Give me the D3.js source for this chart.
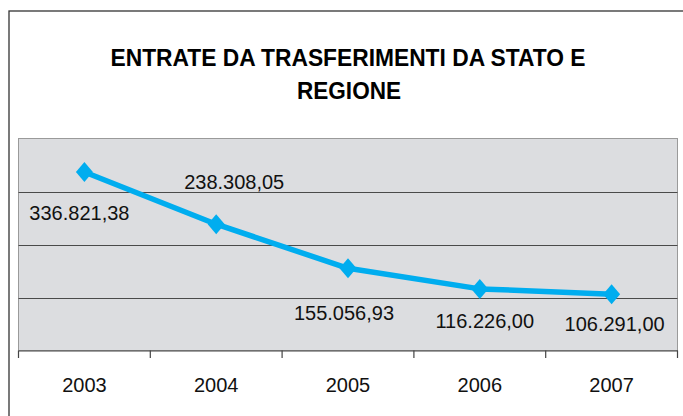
<!DOCTYPE html>
<html><head><meta charset="utf-8">
<script src="https://cdn.jsdelivr.net/npm/d3@7"></script>
<style>html,body{margin:0;padding:0;background:#fff;}svg{display:block;}</style>
</head><body>
<script>
const titleLines = ["ENTRATE DA TRASFERIMENTI DA STATO E", "REGIONE"];
const years = ["2003", "2004", "2005", "2006", "2007"];
const values = [336821.38, 238308.05, 155056.93, 116226.00, 106291.00];
const valueLabels = ["336.821,38", "238.308,05", "155.056,93", "116.226,00", "106.291,00"];
const yTicks = [0, 100000, 200000, 300000, 400000];
// label offsets (layout only)
const labelDx = [-5, 18, -4, 5, 3];
const labelDy = [48, -35, 52, 39, 37];

const W = 683, H = 416;
const svg = d3.select("body").append("svg").attr("width", W).attr("height", H);
svg.append("rect").attr("width", W).attr("height", H).attr("fill", "#fff");

// outer border
svg.append("rect").attr("x", 9).attr("y", 11).attr("width", 690).attr("height", 420)
  .attr("fill", "none").attr("stroke", "#333").attr("stroke-width", 1.3);

const pLeft = 18.5, pRight = 677.5, pTop = 138.5, pBottom = 350.5;
const x = d3.scaleBand().domain(years).range([pLeft, pRight]);
const y = d3.scaleLinear().domain([0, 400000]).range([pBottom, pTop]);

// title
const title = svg.append("text").attr("text-anchor", "middle")
  .attr("font-family", "'Liberation Sans Narrow', 'Liberation Sans', Arial, sans-serif")
  .attr("font-weight", "bold").attr("font-size", 24).attr("fill", "#000");
title.append("tspan").attr("x", 348).attr("y", 65.5).attr("textLength", 475).attr("lengthAdjust", "spacingAndGlyphs").text(titleLines[0]);
title.append("tspan").attr("x", 349).attr("y", 98.5).attr("textLength", 104).attr("lengthAdjust", "spacingAndGlyphs").text(titleLines[1]);

// plot area
svg.append("rect").attr("x", pLeft).attr("y", pTop).attr("width", pRight - pLeft).attr("height", pBottom - pTop)
  .attr("fill", "#dcdde0").attr("stroke", "#9a9a9a").attr("stroke-width", 1);

// gridlines
svg.append("g").selectAll("line").data(yTicks.filter(d => d > 0 && d < 400000)).join("line")
  .attr("x1", pLeft).attr("x2", pRight).attr("y1", d => Math.round(y(d)) + 0.5).attr("y2", d => Math.round(y(d)) + 0.5)
  .attr("stroke", "#4a4a4a").attr("stroke-width", 1);

// x axis
const xAxis = d3.axisBottom(x).tickSize(0).tickPadding(0);
const gx = svg.append("g").attr("transform", `translate(0,${pBottom})`).call(xAxis);
gx.select(".domain").attr("stroke", "#444").attr("stroke-width", 1.2);
gx.selectAll("text").attr("font-family", "'Liberation Sans', Arial, sans-serif").attr("font-size", 20)
  .attr("fill", "#111").attr("dy", null).attr("y", 41);
// category boundary ticks
const bounds = years.map(d => x(d)).concat([x(years[years.length - 1]) + x.bandwidth()]);
svg.append("g").selectAll("line").data(bounds).join("line")
  .attr("x1", d => d).attr("x2", d => d).attr("y1", pBottom).attr("y2", pBottom + 7.5)
  .attr("stroke", "#444").attr("stroke-width", 1.2);

// line
const cx = d => x(d) + x.bandwidth() / 2;
const line = d3.line().x((d, i) => cx(years[i])).y(d => y(d));
svg.append("path").datum(values).attr("d", line).attr("fill", "none")
  .attr("stroke", "#00adef").attr("stroke-width", 5.5).attr("stroke-linejoin", "round");

// markers
svg.append("g").selectAll("path").data(values).join("path")
  .attr("transform", (d, i) => `translate(${cx(years[i])},${y(d)})`)
  .attr("d", "M0,-10L8.5,0L0,10L-8.5,0Z").attr("fill", "#00adef");

// value labels
svg.append("g").selectAll("text").data(values).join("text")
  .attr("x", (d, i) => cx(years[i]) + labelDx[i]).attr("y", (d, i) => y(d) + labelDy[i])
  .attr("text-anchor", "middle").attr("font-family", "'Liberation Sans', Arial, sans-serif")
  .attr("font-size", 20).attr("fill", "#111").text((d, i) => valueLabels[i]);
</script>
</body></html>
